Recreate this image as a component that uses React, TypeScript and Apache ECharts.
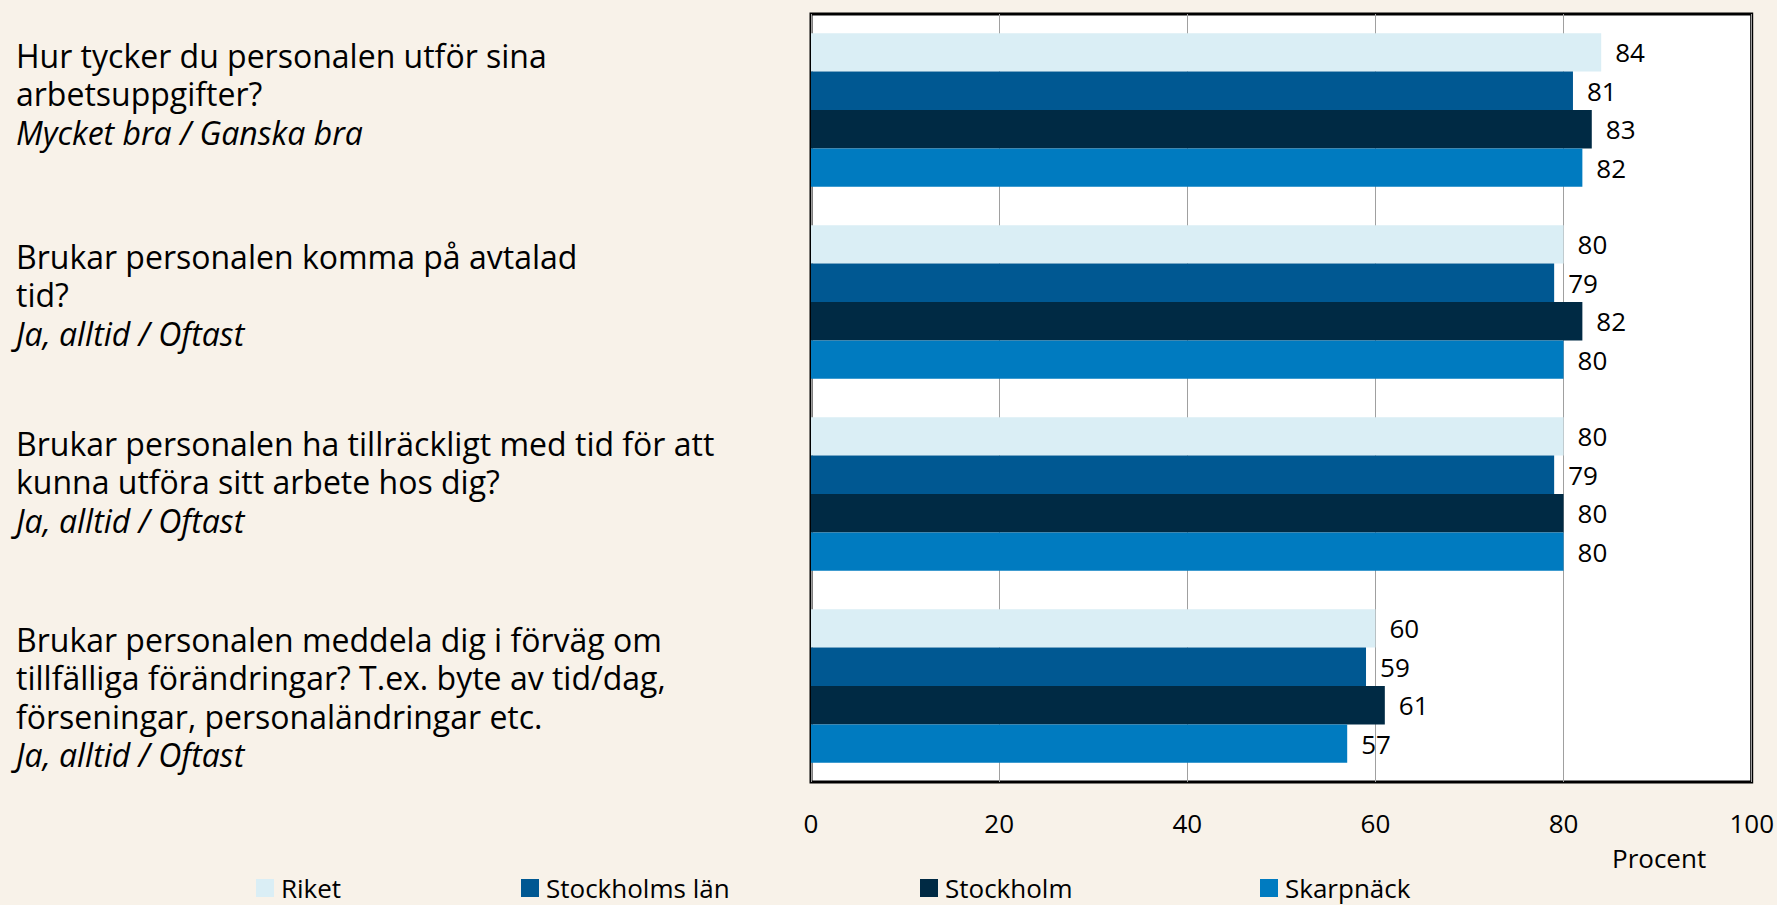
import React, { useEffect, useRef } from "react";
import * as echarts from "echarts";

const questions = [
  "Hur tycker du personalen utför sina\narbetsuppgifter?",
  "Brukar personalen komma på avtalad\ntid?",
  "Brukar personalen ha tillräckligt med tid för att\nkunna utföra sitt arbete hos dig?",
  "Brukar personalen meddela dig i förväg om\ntillfälliga förändringar? T.ex. byte av tid/dag,\nförseningar, personaländringar etc.",
];
const answers = [
  "Mycket bra / Ganska bra",
  "Ja, alltid / Oftast",
  "Ja, alltid / Oftast",
  "Ja, alltid / Oftast",
];
const seriesNames = ["Riket", "Stockholms län", "Stockholm", "Skarpnäck"];
const riket = [84, 80, 80, 60];
const stockholmsLan = [81, 79, 79, 59];
const stockholm = [83, 82, 80, 61];
const skarpnack = [82, 80, 80, 57];
const xTicks = [0, 20, 40, 60, 80, 100];
const unitLabel = "Procent";

const colors = ["#DAEEF5", "#005892", "#002A44", "#007BC0"];
const FONT = "Open Sans";

export default function App() {
  const ref = useRef<HTMLDivElement>(null);
  useEffect(() => {
    if (!ref.current) return;
    const chart = echarts.init(ref.current, null, { renderer: "svg" });
    const values = [riket, stockholmsLan, stockholm, skarpnack];
    const labelTops = [39, 240, 427, 623];
    const legendLefts = [256, 521, 920, 1260];
    const option: any = {
      animation: false,
      backgroundColor: "#F8F2E9",
      textStyle: { fontFamily: FONT },
      grid: {
        left: 811,
        right: 25,
        top: 14,
        bottom: 123,
        show: true,
        backgroundColor: "#FFFFFF",
        borderColor: "#000000",
        borderWidth: 3,
        containLabel: false,
      },
      legend: seriesNames.map((n, i) => ({
        data: [n],
        left: legendLefts[i],
        top: 874,
        padding: 0,
        itemWidth: 18,
        itemHeight: 18,
        itemGap: 0,
        icon: "rect",
        textStyle: {
          fontFamily: FONT,
          fontSize: 26,
          lineHeight: 28,
          color: "#000",
          padding: [0, 0, 0, 2],
        },
      })),
      xAxis: {
        type: "value",
        min: xTicks[0],
        max: xTicks[xTicks.length - 1],
        interval: xTicks[1] - xTicks[0],
        axisLine: { show: false },
        axisTick: { show: false },
        splitLine: { show: true, lineStyle: { color: "#A0A0A0", width: 1 } },
        axisLabel: { fontFamily: FONT, fontSize: 26, color: "#000", margin: 28 },
      },
      yAxis: {
        type: "category",
        inverse: true,
        data: questions,
        axisLine: { show: false },
        axisTick: { show: false },
        axisLabel: { show: false },
      },
      graphic: [
        ...questions.map((q, i) => ({
          type: "text",
          left: 16,
          top: labelTops[i],
          style: {
            text:
              q
                .split("\n")
                .map((l) => `{n|${l}}`)
                .join("\n") + `\n{i|${answers[i]}}`,
            rich: {
              n: { fontFamily: FONT, fontSize: 32, lineHeight: 38.5, fill: "#000" },
              i: { fontFamily: FONT, fontSize: 32, lineHeight: 38.5, fontStyle: "italic", fill: "#000" },
            },
          },
        })),
        {
          type: "text",
          left: 1612,
          top: 845,
          style: { text: unitLabel, fontFamily: FONT, fontSize: 26, fill: "#000" },
        },
      ],
      series: seriesNames.map((n, i) => ({
        name: n,
        type: "bar",
        data: values[i],
        barGap: "0%",
        barCategoryGap: "20%",
        itemStyle: { color: colors[i] },
        label: {
          show: true,
          position: "right",
          distance: 14,
          fontFamily: FONT,
          fontSize: 26,
          color: "#000",
        },
      })),
    };
    chart.setOption(option);
    return () => chart.dispose();
  }, []);
  return (
    <div
      ref={ref}
      style={{ position: "fixed", left: 0, top: 0, width: 1777, height: 905 }}
    />
  );
}
